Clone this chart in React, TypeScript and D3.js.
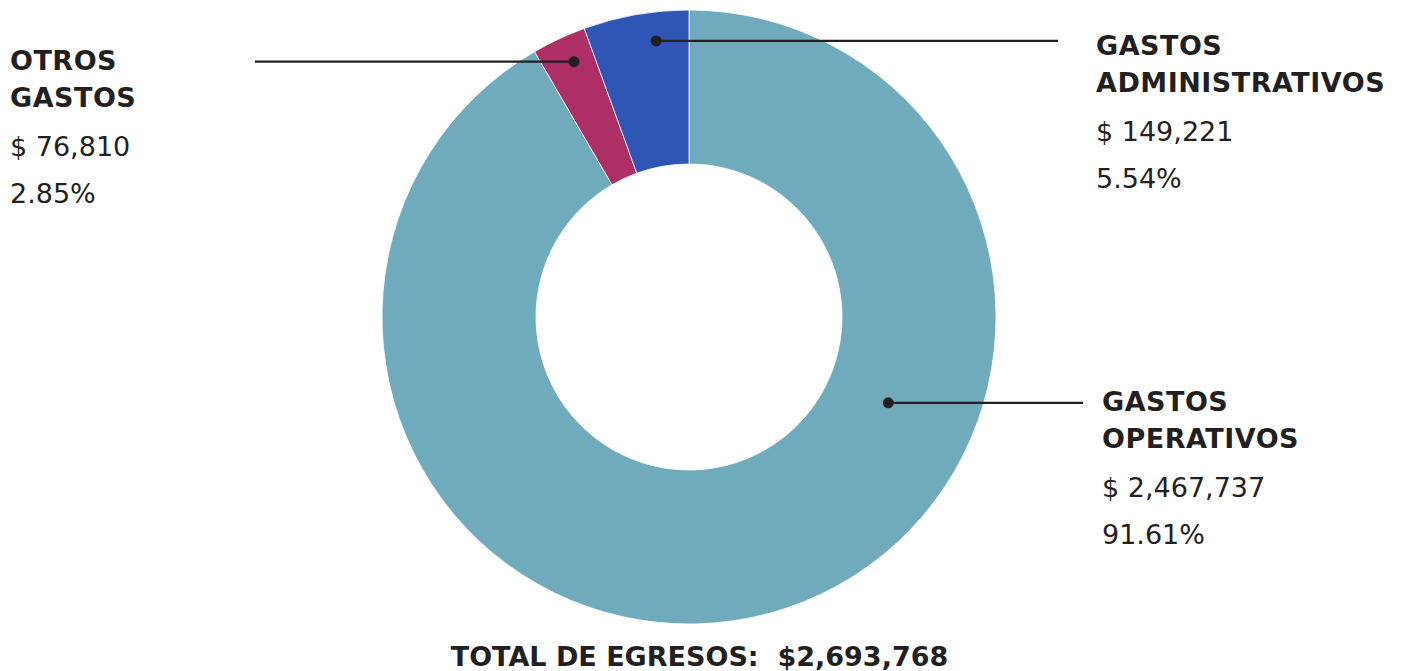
import React from "react";
import * as d3 from "d3";

const categories = ["GASTOS OPERATIVOS", "OTROS GASTOS", "GASTOS ADMINISTRATIVOS"];
const titleLines = [["GASTOS", "OPERATIVOS"], ["OTROS", "GASTOS"], ["GASTOS", "ADMINISTRATIVOS"]];
const amounts = [2467737, 76810, 149221];
const amountLabels = ["$ 2,467,737", "$ 76,810", "$ 149,221"];
const percentLabels = ["91.61%", "2.85%", "5.54%"];
const colors = ["#6FABBC", "#AE2F66", "#2F55B5"];
const totalLabel = "TOTAL DE EGRESOS:  $2,693,768";

// layout for callouts: anchor position within slice (fraction of angle), radius, line end x, label x, label top baseline
const callouts = [
  { frac: 0.3435, r: 217, lineEnd: 1083, labelX: 1102, baseY: 411 },
  { frac: 0.58, r: 280, lineEnd: 255, labelX: 10, baseY: 70 },
  { frac: 0.66, r: 278, lineEnd: 1058, labelX: 1096, baseY: 55 },
];

const W = 1405;
const H = 671;
const cx = 689;
const cy = 317;
const outerR = 307;
const innerR = 153;
const FONT = "'DejaVu Sans', Verdana, sans-serif";
const TXT = "#231F20";

export default function App() {
  const pie = d3.pie<number>().value((d) => d).sort(null);
  const arcs = pie(amounts);
  const arcGen = d3.arc<d3.PieArcDatum<number>>().innerRadius(innerR).outerRadius(outerR);

  return (
    <svg width={W} height={H} style={{ position: "absolute", left: 0, top: 0 }}>
      <g transform={`translate(${cx},${cy})`}>
        {arcs.map((a, i) => (
          <path key={i} d={arcGen(a) || ""} fill={colors[i]} stroke="#ffffff" strokeWidth={0.8} />
        ))}
      </g>
      {arcs.map((a, i) => {
        const c = callouts[i];
        const ang = a.startAngle + (a.endAngle - a.startAngle) * c.frac;
        const x = cx + c.r * Math.sin(ang);
        const y = cy - c.r * Math.cos(ang);
        return (
          <g key={"c" + i}>
            <line x1={x} y1={y} x2={c.lineEnd} y2={y} stroke={TXT} strokeWidth={2.2} />
            <circle cx={x} cy={y} r={5.5} fill={TXT} />
          </g>
        );
      })}
      {categories.map((cat, i) => {
        const c = callouts[i];
        return (
          <g key={"l" + i} fontFamily={FONT} fill={TXT}>
            <text x={c.labelX} y={c.baseY} fontSize={27} fontWeight="bold" letterSpacing={0.5}>{titleLines[i][0]}</text>
            <text x={c.labelX} y={c.baseY + 37} fontSize={27} fontWeight="bold" letterSpacing={0.5}>{titleLines[i][1]}</text>
            <text x={c.labelX} y={c.baseY + 86} fontSize={27}>{amountLabels[i]}</text>
            <text x={c.labelX} y={c.baseY + 133} fontSize={27}>{percentLabels[i]}</text>
          </g>
        );
      })}
      <text x={699.5} y={666} textAnchor="middle" fontFamily={FONT} fontWeight="bold" fontSize={27} fill={TXT} style={{ whiteSpace: "pre" }}>
        {totalLabel}
      </text>
    </svg>
  );
}
